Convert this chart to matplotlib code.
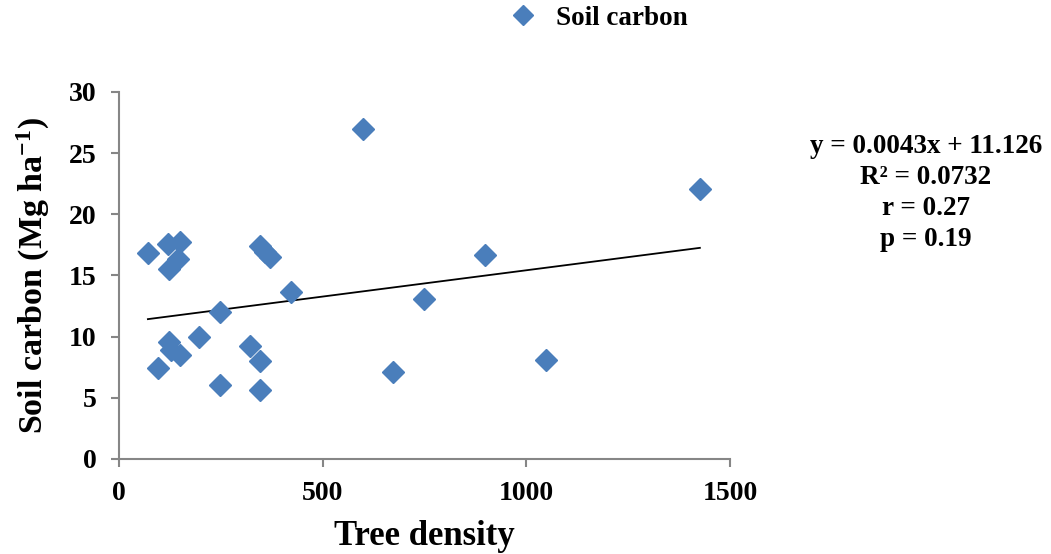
import numpy as np
import matplotlib.pyplot as plt

# Data
tree_density = [71, 120, 150, 145, 123, 248, 196, 123, 127, 150, 96, 248,
                322, 346, 346, 346, 358, 371, 422, 599, 673, 749, 899, 1048, 1426]
soil_carbon = [16.8, 17.6, 17.7, 16.35, 15.5, 12.0, 10.0, 9.6, 8.9, 8.5, 7.4, 6.05,
               9.2, 8.0, 5.6, 17.4, 16.9, 16.5, 13.65, 27.0, 7.1, 13.1, 16.7, 8.1, 22.1]

slope = 0.0043
intercept = 11.126
stats_lines = ["y = 0.0043x + 11.126", "R\u00b2 = 0.0732", "r = 0.27", "p = 0.19"]

x_ticks = [0, 500, 1000, 1500]
y_ticks = [0, 5, 10, 15, 20, 25, 30]

plt.rcParams["font.family"] = ["Liberation Serif", "DejaVu Serif"]
plt.rcParams["font.weight"] = "bold"
plt.rcParams["mathtext.fontset"] = "custom"
plt.rcParams["mathtext.rm"] = "Liberation Serif:bold"
plt.rcParams["mathtext.it"] = "Liberation Serif:bold"
plt.rcParams["mathtext.bf"] = "Liberation Serif:bold"

fig = plt.figure(figsize=(10.51, 5.54), dpi=100)
ax = fig.add_axes([0.1132, 0.1715, 0.5814, 0.6625])

blue = "#4A7EBB"
ax.plot(tree_density, soil_carbon, linestyle="none", marker="D", markersize=11,
        color=blue, label="Soil carbon", zorder=3)

xs = np.array([min(tree_density), max(tree_density)])
ax.plot(xs, slope * xs + intercept, color="black", linewidth=1.3, zorder=2)

ax.set_xlim(0, 1500)
ax.set_ylim(0, 30)
ax.set_xticks(x_ticks)
ax.set_yticks(y_ticks)

for side in ["top", "right"]:
    ax.spines[side].set_visible(False)
for side in ["left", "bottom"]:
    ax.spines[side].set_color("#868686")
    ax.spines[side].set_linewidth(1.5)
ax.tick_params(axis="both", direction="out", length=6, width=1.5, color="#868686",
               labelsize=20, pad=10)
for lbl in ax.get_xticklabels() + ax.get_yticklabels():
    lbl.set_fontweight("bold")

ax.set_xlabel("Tree density", fontsize=25, fontweight="bold", labelpad=10)
ax.set_ylabel("Soil carbon (Mg ha$^{-1}$)", fontsize=24.5, fontweight="bold", labelpad=12)

fig.text(0.881, 0.652, "\n".join(stats_lines), ha="center", va="center",
         fontsize=19.5, fontweight="bold", linespacing=1.32)

fig.legend(loc="center", bbox_to_anchor=(0.563, 0.9675), frameon=False,
           prop={"size": 19.5, "weight": "bold"}, handletextpad=0.2, markerscale=0.9)

fig.savefig("out.png", dpi=100)
